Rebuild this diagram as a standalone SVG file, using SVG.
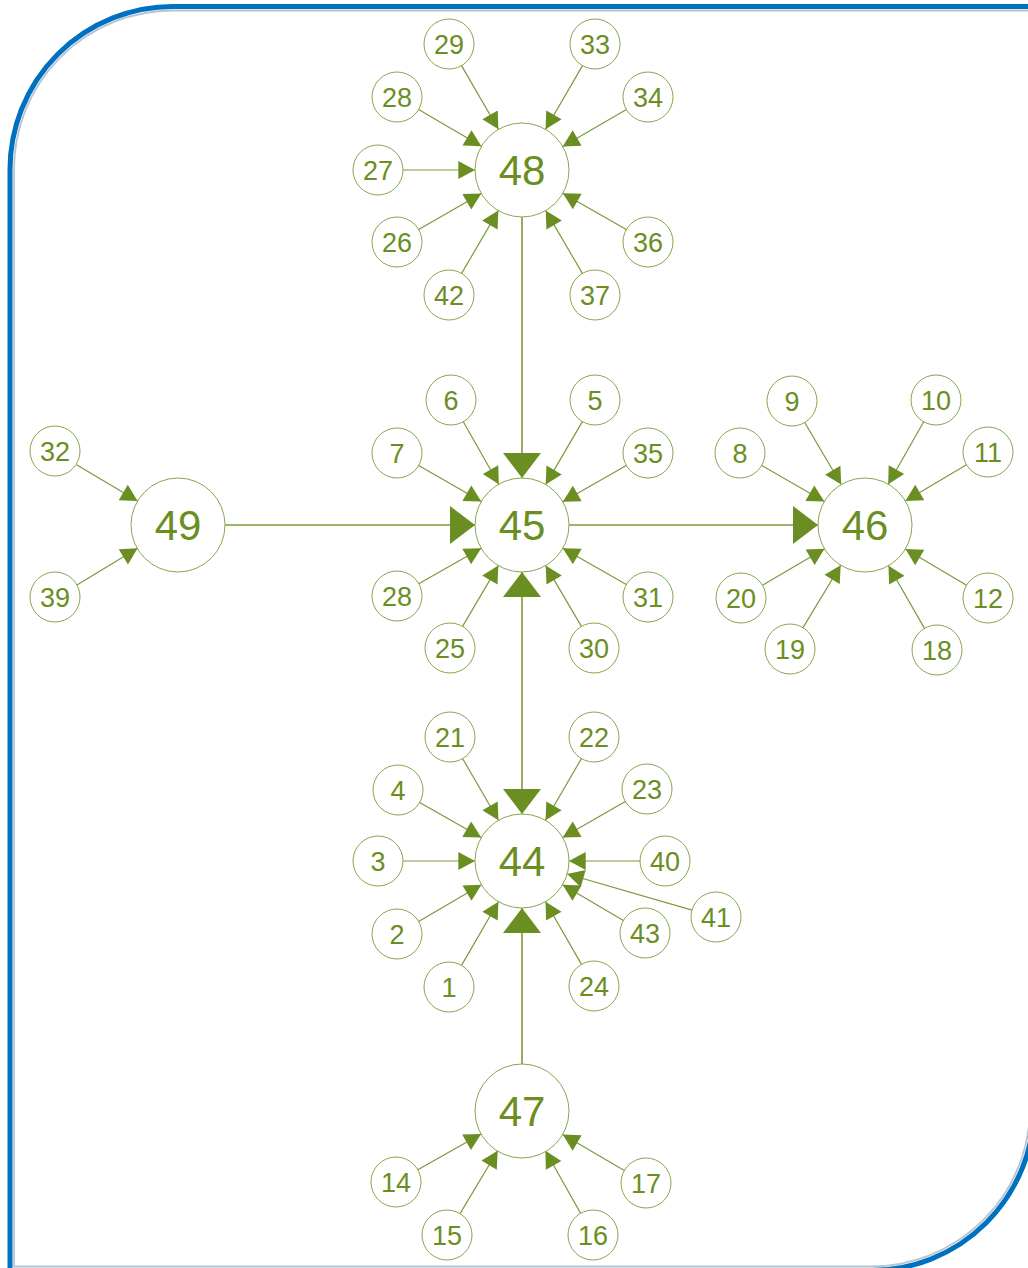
<svg xmlns="http://www.w3.org/2000/svg" width="1028" height="1268" viewBox="0 0 1028 1268">
<style>
.frame{fill:none;stroke:#0070C0;stroke-width:5}
.shadow{fill:none;stroke:#b8c3d2;stroke-width:1.8}
.n circle{fill:#fff;stroke:#8aa64e;stroke-width:1}
.n text{font-family:"Liberation Sans",Arial,sans-serif;fill:#6B8E23;text-anchor:middle}
.s text{font-size:27px}
.b text{font-size:42px}
.e{stroke:#7a9a3a;stroke-width:1.2;fill:none;marker-end:url(#a)}
.m{stroke:#7a9a3a;stroke-width:1.6;fill:none;marker-end:url(#A)}
</style>
<defs>
<marker id="a" markerUnits="userSpaceOnUse" markerWidth="20" markerHeight="20" viewBox="-16 -9 17 18" refX="0" refY="0" orient="auto" overflow="visible"><path d="M0,0 L-15,-8 L-15,8 Z" fill="#6B8E23"/></marker>
<marker id="A" markerUnits="userSpaceOnUse" markerWidth="30" markerHeight="40" viewBox="-26 -20 27 40" refX="0" refY="0" orient="auto-start-reverse" overflow="visible"><path d="M0,0 L-25,-19 L-25,19 Z" fill="#6B8E23"/></marker>
</defs>
<rect x="0" y="0" width="1028" height="1268" fill="#fff"/>
<path class="shadow" d="M14,1266.5 V169.5 A159,159 0 0 1 173,10.5 H1030 V1107.5 A159,159 0 0 1 871,1266.5 Z"/>
<path class="frame" d="M10,1270.5 V169.5 A163,163 0 0 1 173,6.5 H1034 V1107.5 A163,163 0 0 1 871,1270.5 Z"/>
<g id="connectors">
<line class="m" x1="522" y1="217" x2="522" y2="478"/>
<line class="m" x1="225" y1="525" x2="475" y2="525"/>
<line class="m" x1="569" y1="525" x2="818" y2="525"/>
<line class="m" x1="522" y1="572" x2="522" y2="814" marker-start="url(#A)"/>
<line class="m" x1="522" y1="1064" x2="522" y2="908"/>
<line class="e" x1="461.5" y1="65.6" x2="498.4" y2="129.3"/>
<line class="e" x1="582.5" y1="65.6" x2="545.6" y2="129.3"/>
<line class="e" x1="418.6" y1="109.6" x2="481.4" y2="146.3"/>
<line class="e" x1="626.4" y1="109.5" x2="562.7" y2="146.4"/>
<line class="e" x1="403" y1="170" x2="475" y2="170"/>
<line class="e" x1="418.7" y1="229.5" x2="481.3" y2="193.5"/>
<line class="e" x1="626.3" y1="229.6" x2="562.8" y2="193.3"/>
<line class="e" x1="461.6" y1="273.4" x2="498.3" y2="210.6"/>
<line class="e" x1="582.4" y1="273.4" x2="545.7" y2="210.6"/>
<line class="e" x1="463.3" y1="421.7" x2="498.8" y2="484.2"/>
<line class="e" x1="582.4" y1="421.6" x2="545.7" y2="484.4"/>
<line class="e" x1="418.7" y1="465.5" x2="481.3" y2="501.5"/>
<line class="e" x1="626.3" y1="465.4" x2="562.8" y2="501.7"/>
<line class="e" x1="418.7" y1="583.7" x2="481.2" y2="548.2"/>
<line class="e" x1="626.3" y1="584.6" x2="562.8" y2="548.3"/>
<line class="e" x1="462.6" y1="626.4" x2="498.3" y2="565.6"/>
<line class="e" x1="581.4" y1="626.4" x2="545.7" y2="565.6"/>
<line class="e" x1="804.7" y1="422.5" x2="841.2" y2="484.5"/>
<line class="e" x1="923.7" y1="421.7" x2="888.2" y2="484.2"/>
<line class="e" x1="761.7" y1="465.5" x2="824.3" y2="501.5"/>
<line class="e" x1="966.5" y1="464.8" x2="905.4" y2="501"/>
<line class="e" x1="762.5" y1="585.3" x2="824.5" y2="548.8"/>
<line class="e" x1="966.5" y1="585.3" x2="905.4" y2="549"/>
<line class="e" x1="803" y1="627.6" x2="840.7" y2="565.2"/>
<line class="e" x1="924.5" y1="628.4" x2="888.5" y2="565.7"/>
<line class="e" x1="462.6" y1="758.6" x2="498.4" y2="820.3"/>
<line class="e" x1="581.4" y1="758.6" x2="545.6" y2="820.3"/>
<line class="e" x1="419.7" y1="802.4" x2="481.2" y2="837.6"/>
<line class="e" x1="625.3" y1="801.5" x2="562.7" y2="837.5"/>
<line class="e" x1="403" y1="861" x2="475" y2="861"/>
<line class="e" x1="640" y1="861" x2="569" y2="861"/>
<line class="e" x1="418.6" y1="921.4" x2="481.4" y2="884.7"/>
<line class="e" x1="623.4" y1="920.4" x2="562.6" y2="884.7"/>
<line class="e" x1="692" y1="910.1" x2="567.2" y2="874"/>
<line class="e" x1="461.5" y1="965.4" x2="498.4" y2="901.7"/>
<line class="e" x1="581.5" y1="964.4" x2="545.5" y2="901.7"/>
<line class="e" x1="417.8" y1="1169.7" x2="481.1" y2="1134.1"/>
<line class="e" x1="460" y1="1213.6" x2="497.7" y2="1150.8"/>
<line class="e" x1="580.6" y1="1213.3" x2="545.4" y2="1150.8"/>
<line class="e" x1="624.4" y1="1170.4" x2="562.7" y2="1134.6"/>
<line class="e" x1="76.5" y1="464.8" x2="137.6" y2="501"/>
<line class="e" x1="76.5" y1="585.3" x2="137.6" y2="548.2"/>
</g>
<g id="node-48" class="n b"><circle cx="522" cy="170" r="47"/><text x="522" y="185">48</text></g>
<g id="node-45" class="n b"><circle cx="522" cy="525" r="47"/><text x="522" y="540">45</text></g>
<g id="node-46" class="n b"><circle cx="865" cy="525" r="47"/><text x="865" y="540">46</text></g>
<g id="node-49" class="n b"><circle cx="178" cy="525" r="47"/><text x="178" y="540">49</text></g>
<g id="node-44" class="n b"><circle cx="522" cy="861" r="47"/><text x="522" y="876">44</text></g>
<g id="node-47" class="n b"><circle cx="522" cy="1111" r="47"/><text x="522" y="1126">47</text></g>
<g id="node-29" class="n s"><circle cx="449" cy="44" r="25"/><text x="449" y="53.7">29</text></g>
<g id="node-33" class="n s"><circle cx="595" cy="44" r="25"/><text x="595" y="53.7">33</text></g>
<g id="node-28a" class="n s"><circle cx="397" cy="97" r="25"/><text x="397" y="106.7">28</text></g>
<g id="node-34" class="n s"><circle cx="648" cy="97" r="25"/><text x="648" y="106.7">34</text></g>
<g id="node-27" class="n s"><circle cx="378" cy="170" r="25"/><text x="378" y="179.7">27</text></g>
<g id="node-26" class="n s"><circle cx="397" cy="242" r="25"/><text x="397" y="251.7">26</text></g>
<g id="node-36" class="n s"><circle cx="648" cy="242" r="25"/><text x="648" y="251.7">36</text></g>
<g id="node-42" class="n s"><circle cx="449" cy="295" r="25"/><text x="449" y="304.7">42</text></g>
<g id="node-37" class="n s"><circle cx="595" cy="295" r="25"/><text x="595" y="304.7">37</text></g>
<g id="node-6" class="n s"><circle cx="451" cy="400" r="25"/><text x="451" y="409.7">6</text></g>
<g id="node-5" class="n s"><circle cx="595" cy="400" r="25"/><text x="595" y="409.7">5</text></g>
<g id="node-7" class="n s"><circle cx="397" cy="453" r="25"/><text x="397" y="462.7">7</text></g>
<g id="node-35" class="n s"><circle cx="648" cy="453" r="25"/><text x="648" y="462.7">35</text></g>
<g id="node-28b" class="n s"><circle cx="397" cy="596" r="25"/><text x="397" y="605.7">28</text></g>
<g id="node-31" class="n s"><circle cx="648" cy="597" r="25"/><text x="648" y="606.7">31</text></g>
<g id="node-25" class="n s"><circle cx="450" cy="648" r="25"/><text x="450" y="657.7">25</text></g>
<g id="node-30" class="n s"><circle cx="594" cy="648" r="25"/><text x="594" y="657.7">30</text></g>
<g id="node-9" class="n s"><circle cx="792" cy="401" r="25"/><text x="792" y="410.7">9</text></g>
<g id="node-10" class="n s"><circle cx="936" cy="400" r="25"/><text x="936" y="409.7">10</text></g>
<g id="node-8" class="n s"><circle cx="740" cy="453" r="25"/><text x="740" y="462.7">8</text></g>
<g id="node-11" class="n s"><circle cx="988" cy="452" r="25"/><text x="988" y="461.7">11</text></g>
<g id="node-20" class="n s"><circle cx="741" cy="598" r="25"/><text x="741" y="607.7">20</text></g>
<g id="node-12" class="n s"><circle cx="988" cy="598" r="25"/><text x="988" y="607.7">12</text></g>
<g id="node-19" class="n s"><circle cx="790" cy="649" r="25"/><text x="790" y="658.7">19</text></g>
<g id="node-18" class="n s"><circle cx="937" cy="650" r="25"/><text x="937" y="659.7">18</text></g>
<g id="node-21" class="n s"><circle cx="450" cy="737" r="25"/><text x="450" y="746.7">21</text></g>
<g id="node-22" class="n s"><circle cx="594" cy="737" r="25"/><text x="594" y="746.7">22</text></g>
<g id="node-4" class="n s"><circle cx="398" cy="790" r="25"/><text x="398" y="799.7">4</text></g>
<g id="node-23" class="n s"><circle cx="647" cy="789" r="25"/><text x="647" y="798.7">23</text></g>
<g id="node-3" class="n s"><circle cx="378" cy="861" r="25"/><text x="378" y="870.7">3</text></g>
<g id="node-40" class="n s"><circle cx="665" cy="861" r="25"/><text x="665" y="870.7">40</text></g>
<g id="node-2" class="n s"><circle cx="397" cy="934" r="25"/><text x="397" y="943.7">2</text></g>
<g id="node-43" class="n s"><circle cx="645" cy="933" r="25"/><text x="645" y="942.7">43</text></g>
<g id="node-41" class="n s"><circle cx="716" cy="917" r="25"/><text x="716" y="926.7">41</text></g>
<g id="node-1" class="n s"><circle cx="449" cy="987" r="25"/><text x="449" y="996.7">1</text></g>
<g id="node-24" class="n s"><circle cx="594" cy="986" r="25"/><text x="594" y="995.7">24</text></g>
<g id="node-14" class="n s"><circle cx="396" cy="1182" r="25"/><text x="396" y="1191.7">14</text></g>
<g id="node-15" class="n s"><circle cx="447" cy="1235" r="25"/><text x="447" y="1244.7">15</text></g>
<g id="node-16" class="n s"><circle cx="593" cy="1235" r="25"/><text x="593" y="1244.7">16</text></g>
<g id="node-17" class="n s"><circle cx="646" cy="1183" r="25"/><text x="646" y="1192.7">17</text></g>
<g id="node-32" class="n s"><circle cx="55" cy="451" r="25"/><text x="55" y="460.7">32</text></g>
<g id="node-39" class="n s"><circle cx="55" cy="597" r="25"/><text x="55" y="606.7">39</text></g>
</svg>
